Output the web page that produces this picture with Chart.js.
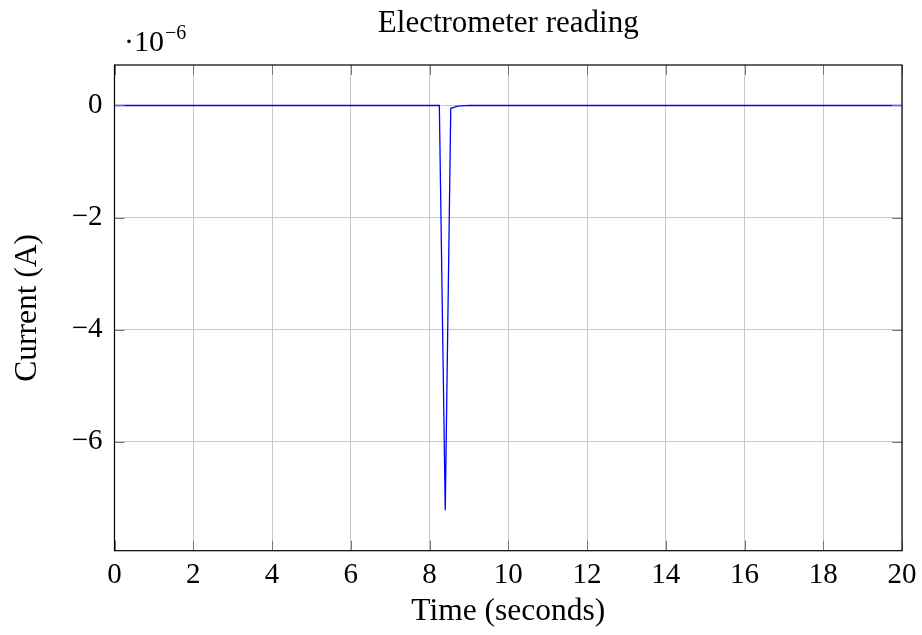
<!DOCTYPE html>
<html>
<head>
<meta charset="utf-8">
<script src="https://cdn.jsdelivr.net/npm/chart.js@4/dist/chart.umd.min.js"></script>
<style>
  html, body { margin: 0; padding: 0; background: #fff; }
  #wrap { width: 922px; height: 635px; }
</style>
</head>
<body>
<div id="wrap"><canvas id="c"></canvas></div>
<script>
// time (s) and current (units of 1e-6 A)
var times    = [0, 8.25, 8.40, 8.54, 8.72, 9.0, 20];
var currents = [0, 0, -7.22, -0.05, -0.01, 0, 0];
var xTicks = [0, 2, 4, 6, 8, 10, 12, 14, 16, 18, 20];
var yTicks = [-6, -4, -2, 0];
var chartTitle = 'Electrometer reading';

var serif = '"Liberation Serif", "Times New Roman", serif';

// pgfplots-like frame, inner tick marks, title over the plot and the "·10^-6" factor
var framePlugin = {
    id: 'frame',
    afterDraw: function(chart) {
        var ctx = chart.ctx, a = chart.chartArea;
        var xs = chart.scales.x, ys = chart.scales.y;
        ctx.save();
        ctx.strokeStyle = '#777';
        ctx.lineWidth = 1;
        xTicks.forEach(function(v) {
            var px = Math.round(xs.getPixelForValue(v)) + 0.5;
            ctx.beginPath();
            ctx.moveTo(px, a.top); ctx.lineTo(px, a.top + 10);
            ctx.moveTo(px, a.bottom); ctx.lineTo(px, a.bottom - 10);
            ctx.stroke();
        });
        yTicks.forEach(function(v) {
            var py = Math.round(ys.getPixelForValue(v)) + 0.5;
            ctx.beginPath();
            ctx.moveTo(a.left, py); ctx.lineTo(a.left + 10, py);
            ctx.moveTo(a.right, py); ctx.lineTo(a.right - 10, py);
            ctx.stroke();
        });
        ctx.strokeStyle = '#000';
        ctx.lineWidth = 1.2;
        ctx.strokeRect(a.left, a.top, a.right - a.left, a.bottom - a.top);

        ctx.fillStyle = '#000';
        ctx.textBaseline = 'alphabetic';
        ctx.textAlign = 'center';
        ctx.font = '31px ' + serif;
        ctx.fillText(chartTitle, (a.left + a.right) / 2, 32);

        ctx.textAlign = 'left';
        ctx.font = '30px ' + serif;
        ctx.fillText('\u00b710', 124, 51);
        var w = ctx.measureText('\u00b710').width;
        ctx.font = '20px ' + serif;
        ctx.fillText('\u22126', 124 + w + 1, 39);
        ctx.restore();
    }
};

var points = times.map(function(t, i) { return { x: t, y: currents[i] }; });

new Chart(document.getElementById('c'), {
    type: 'line',
    data: {
        datasets: [{
            data: points,
            borderColor: '#0000ff',
            borderWidth: 1.3,
            pointRadius: 0,
            tension: 0,
            fill: false
        }]
    },
    options: {
        responsive: true,
        maintainAspectRatio: false,
        animation: false,
        layout: { padding: { left: 0, right: 20, top: 65, bottom: 0 } },
        plugins: {
            legend: { display: false },
            tooltip: { enabled: false },
            title: { display: false }
        },
        scales: {
            x: {
                type: 'linear',
                min: 0,
                max: 20,
                afterFit: function(s) { s.height = 84.3; s.paddingRight = 0; },
                afterBuildTicks: function(s) {
                    s.ticks = xTicks.map(function(v) { return { value: v }; });
                },
                grid: { color: '#c8c8c8', lineWidth: 1, drawTicks: false },
                border: { display: false },
                ticks: {
                    color: '#000',
                    padding: 7,
                    maxRotation: 0,
                    font: { family: serif, size: 29 }
                },
                title: {
                    display: true,
                    text: 'Time (seconds)',
                    color: '#000',
                    font: { family: serif, size: 31.5 },
                    padding: { top: 0, bottom: 4 }
                }
            },
            y: {
                type: 'linear',
                min: -7.942,
                max: 0.722,
                afterFit: function(s) { s.width = 114.5; },
                afterBuildTicks: function(s) {
                    s.ticks = yTicks.map(function(v) { return { value: v }; });
                },
                grid: { color: '#c8c8c8', lineWidth: 1, drawTicks: false },
                border: { display: false },
                ticks: {
                    color: '#000',
                    padding: 12,
                    font: { family: serif, size: 29 },
                    callback: function(v) { return v < 0 ? '\u2212' + Math.abs(v) : String(v); }
                },
                title: {
                    display: true,
                    text: 'Current (A)',
                    color: '#000',
                    font: { family: serif, size: 31.5 },
                    padding: { top: 9, bottom: 0 }
                }
            }
        }
    },
    plugins: [framePlugin]
});
</script>
</body>
</html>
